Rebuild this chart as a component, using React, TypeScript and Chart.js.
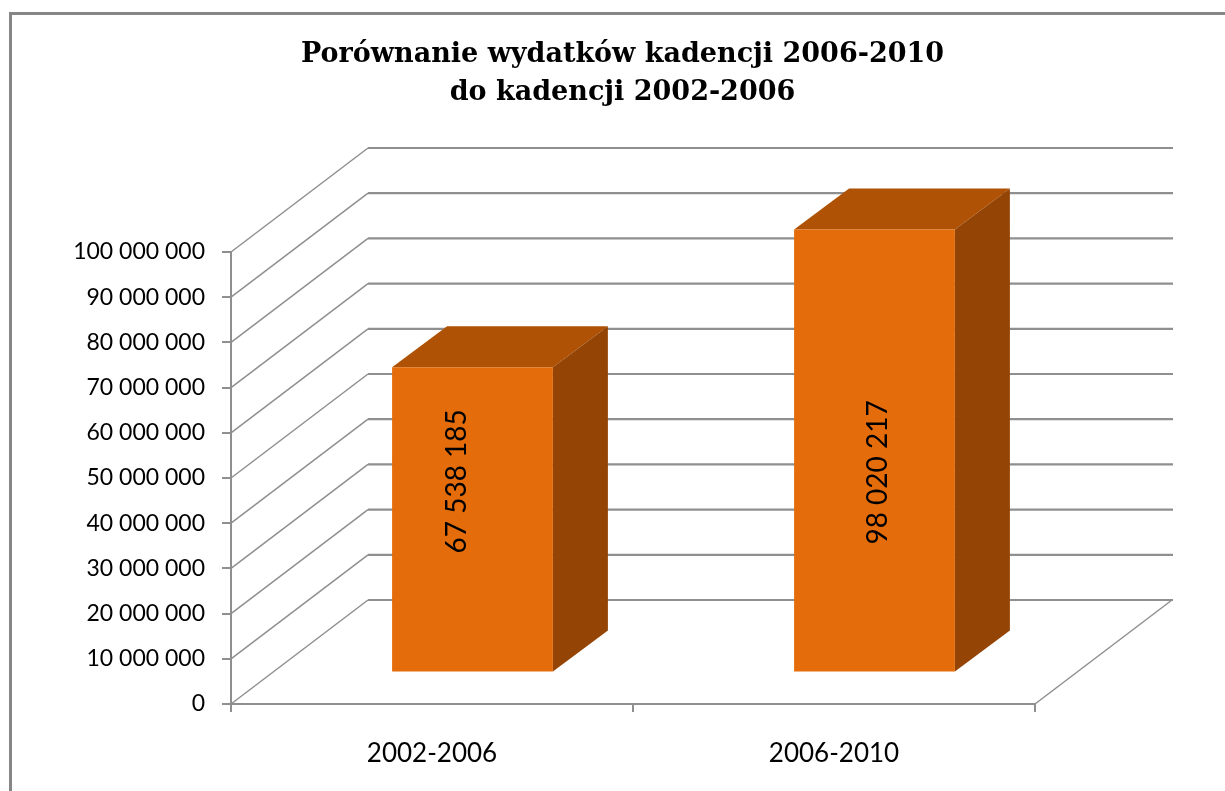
import React, { useEffect, useRef } from "react";
import { Chart, registerables } from "chart.js";

Chart.register(...registerables);

const titleLines = ["Porównanie wydatków kadencji 2006-2010", "do kadencji 2002-2006"];
const categories = ["2002-2006", "2006-2010"];
const seriesValues = [67538185, 98020217];
const axisMax = 100000000;
const axisStep = 10000000;

const GRID = "#8f8f8f";
const FRONT = "#e46c0a";
const TOP = "#af5205";
const SIDE = "#944506";
const WALL_DX = 137;
const WALL_DY = -104;
const BAR_DX = 40.5;
const BAR_DY = -31.5;
const DEPTH_DX = 55;
const DEPTH_DY = -41;
const labelShift = [
  { x: -16, y: -38 },
  { x: 3, y: 22 },
];

const fmt = (v: number) => String(Math.round(v)).replace(/\B(?=(\d{3})+(?!\d))/g, " ");

const poly = (ctx: CanvasRenderingContext2D, pts: number[][], fill: string) => {
  ctx.beginPath();
  pts.forEach((p, i) => (i ? ctx.lineTo(p[0], p[1]) : ctx.moveTo(p[0], p[1])));
  ctx.closePath();
  ctx.fillStyle = fill;
  ctx.fill();
};

const scene = {
  id: "scene3d",
  beforeDraw(chart: any) {
    const { ctx, width, height } = chart;
    ctx.save();
    ctx.strokeStyle = "#868686";
    ctx.lineWidth = 3;
    ctx.beginPath();
    ctx.moveTo(10.5, height);
    ctx.lineTo(10.5, 13.5);
    ctx.lineTo(width, 13.5);
    ctx.stroke();
    ctx.restore();
  },
  beforeDatasetsDraw(chart: any) {
    const { ctx, scales, chartArea } = chart;
    const y = scales.y;
    ctx.save();
    ctx.strokeStyle = GRID;
    y.ticks.forEach((t: any) => {
      const py = y.getPixelForValue(t.value);
      ctx.lineWidth = 1.5;
      ctx.beginPath();
      ctx.moveTo(chartArea.left, py);
      ctx.lineTo(chartArea.left + WALL_DX, py + WALL_DY);
      ctx.stroke();
      ctx.lineWidth = 2.2;
      ctx.beginPath();
      ctx.moveTo(chartArea.left + WALL_DX, py + WALL_DY);
      ctx.lineTo(chartArea.right + WALL_DX + 1, py + WALL_DY);
      ctx.stroke();
    });
    const base = y.getPixelForValue(0);
    ctx.lineWidth = 1.5;
    ctx.beginPath();
    ctx.moveTo(chartArea.right, base);
    ctx.lineTo(chartArea.right + WALL_DX, base + WALL_DY);
    ctx.stroke();
    ctx.restore();
  },
  beforeDatasetDraw(chart: any, args: any) {
    const { ctx } = chart;
    const meta = chart.getDatasetMeta(args.index);
    ctx.save();
    ctx.translate(BAR_DX, BAR_DY);
    meta.data.forEach((bar: any) => {
      const { x, y, base, width } = bar.getProps(["x", "y", "base", "width"], true);
      const l = x - width / 2;
      const r = x + width / 2;
      poly(ctx, [[l, y], [l + DEPTH_DX, y + DEPTH_DY], [r + DEPTH_DX, y + DEPTH_DY], [r, y]], TOP);
      poly(ctx, [[r, y], [r + DEPTH_DX, y + DEPTH_DY], [r + DEPTH_DX, base + DEPTH_DY], [r, base]], SIDE);
    });
  },
  afterDatasetDraw(chart: any) {
    chart.ctx.restore();
  },
  afterDatasetsDraw(chart: any) {
    const { ctx } = chart;
    const meta = chart.getDatasetMeta(0);
    meta.data.forEach((bar: any, i: number) => {
      const { x, y, base } = bar.getProps(["x", "y", "base"], true);
      ctx.save();
      ctx.translate(x + BAR_DX + labelShift[i].x, (y + base) / 2 + BAR_DY + labelShift[i].y);
      ctx.rotate(-Math.PI / 2);
      ctx.font = "28px Lato";
      ctx.fillStyle = "#000";
      ctx.textAlign = "center";
      ctx.textBaseline = "middle";
      ctx.fillText(fmt(seriesValues[i]), 0, 0);
      ctx.restore();
    });
  },
};

export default function App() {
  const ref = useRef<HTMLCanvasElement>(null);
  useEffect(() => {
    document.body.style.margin = "0";
    document.body.style.background = "#fff";
    const chart = new Chart(ref.current as HTMLCanvasElement, {
      type: "bar",
      data: {
        labels: categories,
        datasets: [
          {
            data: seriesValues,
            backgroundColor: FRONT,
            borderWidth: 0,
            barPercentage: 0.4,
            categoryPercentage: 1,
          },
        ],
      },
      plugins: [scene],
      options: {
        animation: false,
        responsive: false,
        layout: { padding: { left: 20, right: 0, top: 0, bottom: 0 } },
        plugins: {
          legend: { display: false },
          tooltip: { enabled: false },
          title: {
            display: true,
            text: titleLines,
            color: "#000",
            font: { family: "'DejaVu Serif'", size: 27, weight: "bold", lineHeight: "38px" },
            padding: { top: 36, bottom: 140 },
          },
        },
        scales: {
          x: {
            afterFit: (s: any) => {
              s.height = 87;
            },
            border: { color: GRID, width: 2 },
            grid: { color: GRID, lineWidth: 2, drawOnChartArea: false, tickLength: 8, offset: true },
            ticks: { color: "#000", padding: 26, maxRotation: 0, font: { family: "Lato", size: 26 } },
          },
          y: {
            min: 0,
            max: axisMax,
            afterFit: (s: any) => {
              s.width = 211;
            },
            border: { color: GRID, width: 2 },
            grid: { color: GRID, lineWidth: 2, drawOnChartArea: false, tickLength: 9 },
            ticks: {
              stepSize: axisStep,
              color: "#000",
              padding: 17,
              font: { family: "Lato", size: 23 },
              callback: (v: any) => fmt(Number(v)),
            },
          },
          spacer: {
            position: "right",
            display: true,
            afterFit: (s: any) => {
              s.width = 190;
            },
            border: { display: false },
            grid: { display: false },
            ticks: { display: false },
          },
        },
      },
    } as any);
    return () => chart.destroy();
  }, []);
  return <canvas ref={ref} width={1225} height={791} style={{ display: "block" }} />;
}
